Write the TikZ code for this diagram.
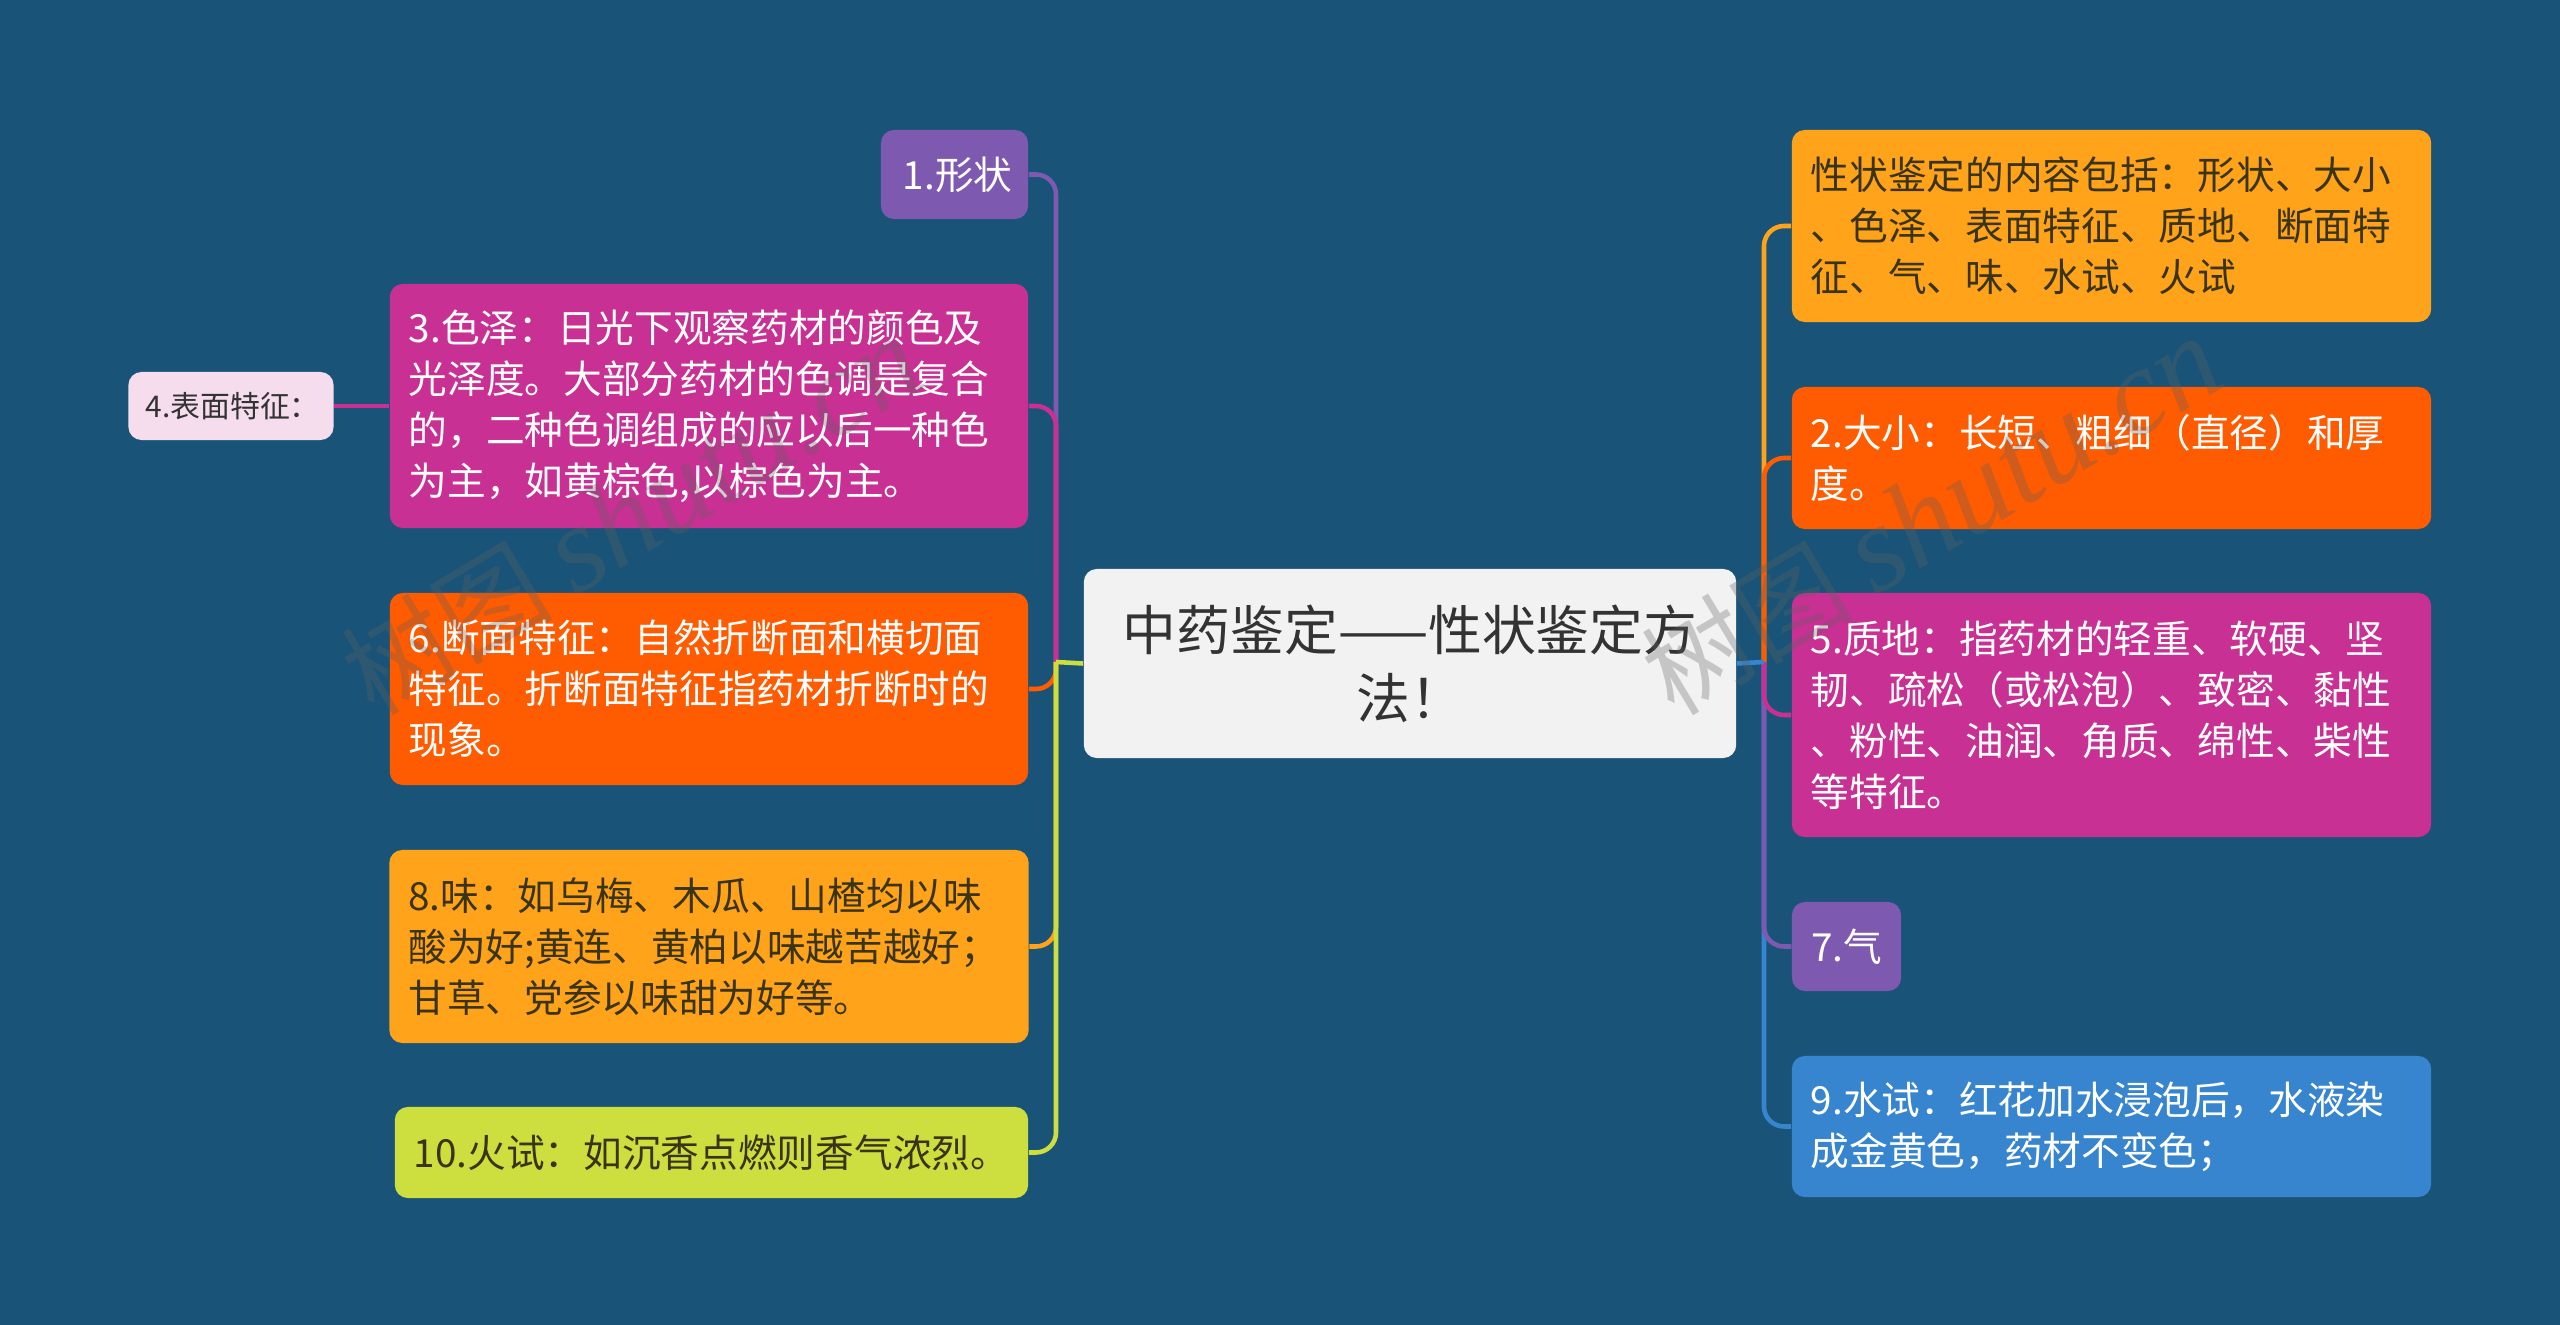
\documentclass[tikz,border=0pt]{standalone}
\usepackage{fontspec}
\setmainfont{Noto Sans CJK SC}
\newfontfamily\wmserif{Liberation Serif}
\definecolor{bgblue}{HTML}{195478}
\definecolor{amberbox}{HTML}{FFA31A}
\definecolor{flamebox}{HTML}{FF5B00}
\definecolor{plumbox}{HTML}{C83094}
\definecolor{violetbox}{HTML}{7D5AB0}
\definecolor{skybox}{HTML}{3784CF}
\definecolor{limebox}{HTML}{CDDE3F}
\definecolor{rootbox}{HTML}{F2F2F2}
\definecolor{pinkbox}{HTML}{F5DDEE}
\definecolor{darktext}{HTML}{3A3414}
\definecolor{markgray}{HTML}{606060}
\tikzset{
  topic/.style={rounded corners=0.13cm, inner xsep=0.19cm, inner ysep=0pt, align=left,
    font=\fontsize{11}{14.5}\selectfont},
  boxsize/.style 2 args={minimum width=#1cm, minimum height=#2cm, text width={#1cm-0.38cm}},
  link/.style={line width=1.3pt, rounded corners=0.2cm},
  watermark/.style={rotate=31, text=markgray, opacity=0.3, font=\fontsize{30}{40}\selectfont}
}
\begin{document}
\begin{tikzpicture}[x=0.01cm,y=-0.01cm]
        \fill[bgblue] (0,0) rectangle (2560,1325);

        \coordinate (lefthub) at (1056,662);
        \coordinate (righthub) at (1764,662);

        \node[topic, fill=rootbox, text=black!80, align=center, minimum width=6.52cm, minimum height=1.89cm, text width=6.1cm, font=\fontsize{15.3}{19.4}\selectfont] (root) at (1410,663.5) {中药鉴定——性状鉴定方\\法！};

        % left side
        \node[topic, boxsize={1.47}{0.89}, fill=violetbox, text=white, text width=1.03cm, inner xsep=0.22cm] (shape) at (954.5,174.5) {1.形状};
        \node[topic, boxsize={6.38}{2.44}, fill=plumbox, text=white] (colour) at (709,406) {3.色泽：日光下观察药材的颜色及\\光泽度。大部分药材的色调是复合\\的，二种色调组成的应以后一种色\\为主，如黄棕色,以棕色为主。};
        \node[topic, boxsize={2.05}{0.68}, fill=pinkbox, text=black!80, inner xsep=0.17cm, text width=1.71cm, font=\fontsize{8.5}{11}\selectfont] (surface) at (231,406) {4.表面特征：};
        \node[topic, boxsize={6.38}{1.92}, fill=flamebox, text=white] (section) at (709,689) {6.断面特征：自然折断面和横切面\\特征。折断面特征指药材折断时的\\现象。};
        \node[topic, boxsize={6.39}{1.93}, fill=amberbox, text=darktext] (taste) at (709,946.5) {8.味：如乌梅、木瓜、山楂均以味\\酸为好;黄连、黄柏以味越苦越好；\\甘草、党参以味甜为好等。};
        \node[topic, boxsize={6.33}{0.91}, fill=limebox, text=darktext] (fire) at (711.5,1152.5) {10.火试：如沉香点燃则香气浓烈。};

        % right side
        \node[topic, boxsize={6.39}{1.92}, fill=amberbox, text=darktext] (content) at (2111.5,226) {性状鉴定的内容包括：形状、大小\\、色泽、表面特征、质地、断面特\\征、气、味、水试、火试};
        \node[topic, boxsize={6.39}{1.42}, fill=flamebox, text=white] (size) at (2111.5,458) {2.大小：长短、粗细（直径）和厚\\度。};
        \node[topic, boxsize={6.39}{2.44}, fill=plumbox, text=white] (texture) at (2111.5,715) {5.质地：指药材的轻重、软硬、坚\\韧、疏松（或松泡）、致密、黏性\\、粉性、油润、角质、绵性、柴性\\等特征。};
        \node[topic, boxsize={1.09}{0.89}, fill=violetbox, text=white] (smell) at (1846.5,946.5) {7.气};
        \node[topic, boxsize={6.39}{1.41}, fill=skybox, text=white] (water) at (2111.5,1126.5) {9.水试：红花加水浸泡后，水液染\\成金黄色，药材不变色；};

        \draw[link, violetbox] (shape.east) -| (lefthub);
        \draw[link, plumbox] (colour.east) -| (lefthub);
        \draw[link, plumbox] (colour.west) -- (surface.east);
        \draw[link, flamebox] (section.east) -| (lefthub);
        \draw[link, amberbox] (taste.east) -| (lefthub);
        \draw[link, limebox] (fire.east) -| (lefthub);
        \draw[link, limebox] (root.west) -- (lefthub);

        \draw[link, skybox] (water.west) -| (righthub);
        \draw[link, violetbox] (smell.west) -| (righthub);
        \draw[link, plumbox] (texture.west) -| (righthub);
        \draw[link, amberbox] (content.west) -| (righthub);
        \draw[link, flamebox] (size.west) -| (righthub);
        \draw[link, skybox] (root.east) -- (righthub);

        % watermarks
        \node[watermark] (markleft) at (632,516) {树图 {\wmserif\itshape\fontsize{35}{40}\selectfont shutu.cn}};
        \node[watermark] (markright) at (1932,516) {树图 {\wmserif\itshape\fontsize{35}{40}\selectfont shutu.cn}};
\end{tikzpicture}
\end{document}
